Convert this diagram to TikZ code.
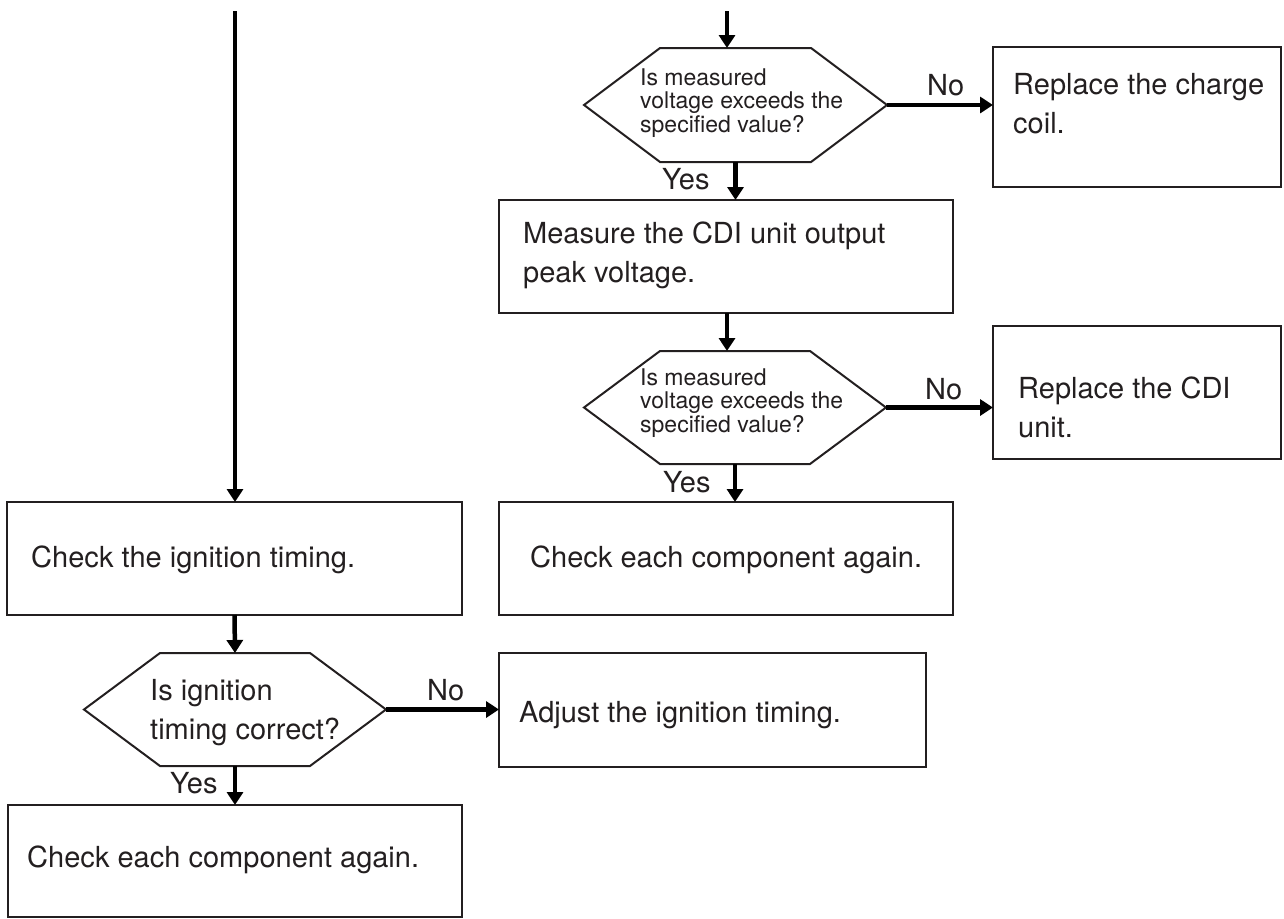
\documentclass[tikz,border=0pt]{standalone}
\usepackage{fontspec}
\setmainfont{TeX Gyre Heros}
\usetikzlibrary{arrows.meta,calc}
\definecolor{ink}{HTML}{231F20}
\begin{document}
\begin{tikzpicture}[x=1pt,y=-1pt,
  stepbox/.style={draw=ink,line width=2pt,inner sep=0pt,outer sep=0pt},
  hexnode/.style={inner sep=0pt,outer sep=0pt},
  hexline/.style={draw=ink,line width=2pt,line join=miter},
  flow/.style={draw=black,line width=4.5pt,-{Triangle[length=13pt,width=16pt]}},
  bigtxt/.style={text=ink,inner sep=0pt,align=left,font=\fontsize{29}{38.5}\selectfont},
  smalltxt/.style={text=ink,inner sep=0pt,align=left,font=\fontsize{23}{23.5}\selectfont},
  lbl/.style={text=ink,inner sep=0pt,font=\fontsize{29}{34}\selectfont,anchor=base west}]
\useasboundingbox (0,0) rectangle (1284,918);

% hexagonal decision outline around a named node
\newcommand\drawhex[2]{%
  \draw[hexline] ($(#1.north west)+(#2,0)$) -- ($(#1.north east)+(-#2,0)$) -- (#1.east)
    -- ($(#1.south east)+(-#2,0)$) -- ($(#1.south west)+(#2,0)$) -- (#1.west) -- cycle;}

% multi-line texts are placed by the baseline of their last line

% ---------- right column ----------
\coordinate (inR) at (727,11);
\node[hexnode,minimum width=303pt,minimum height=114pt] (h1) at (735.5,105) {};
\drawhex{h1}{76}
\node[smalltxt,anchor=base west] (h1t) at (640,132) {Is measured\\voltage exceeds the\\specified value?};

\node[stepbox,minimum width=288pt,minimum height=140pt] (r1) at (1137,117) {};
\node[bigtxt,anchor=base west] (r1t) at (1013,133) {Replace the charge\\coil.};

\node[stepbox,minimum width=454pt,minimum height=113pt] (m1) at (726,256.5) {};
\node[bigtxt,anchor=base west] (m1t) at (523,282) {Measure the CDI unit output\\peak voltage.};

\node[hexnode,minimum width=302pt,minimum height=113pt] (h2) at (735,407.5) {};
\drawhex{h2}{76}
\node[smalltxt,anchor=base west] (h2t) at (640,432) {Is measured\\voltage exceeds the\\specified value?};

\node[stepbox,minimum width=288pt,minimum height=133pt] (r2) at (1137,392.5) {};
\node[bigtxt,anchor=base west] (r2t) at (1018,437) {Replace the CDI\\unit.};

\node[stepbox,minimum width=454pt,minimum height=113pt] (c2) at (726,558.5) {};
\node[bigtxt,anchor=base west] (c2t) at (530,567) {Check each component again.};

% ---------- left column ----------
\coordinate (inL) at (235,11);
\node[stepbox,minimum width=455pt,minimum height=113pt] (t1) at (234.5,558.5) {};
\node[bigtxt,anchor=base west] (t1t) at (31,567) {Check the ignition timing.};

\node[hexnode,minimum width=302pt,minimum height=113pt] (h3) at (235,709.5) {};
\drawhex{h3}{76}
\node[bigtxt,anchor=base west,font=\fontsize{29}{39}\selectfont] (h3t) at (150,739) {Is ignition\\timing correct?};

\node[stepbox,minimum width=427pt,minimum height=114pt] (a1) at (712.5,710) {};
\node[bigtxt,anchor=base west] (a1t) at (519,722) {Adjust the ignition timing.};

\node[stepbox,minimum width=454pt,minimum height=112pt] (c1) at (235,861) {};
\node[bigtxt,anchor=base west] (c1t) at (27,867) {Check each component again.};

% ---------- connectors ----------
\draw[flow] (inR) -- (inR |- h1.north);
\draw[flow] (h1.east) -- (h1.east -| r1.west);
\draw[flow] (h1.south) -- (h1.south |- m1.north);
\draw[flow] (m1.south -| inR) -- (h2.north -| inR);
\draw[flow] (h2.east) -- (h2.east -| r2.west);
\draw[flow] (h2.south) -- (h2.south |- c2.north);

\draw[flow] (inL) -- (inL |- t1.north);
\draw[flow] (t1.south) -- (h3.north);
\draw[flow] (h3.east) -- (h3.east -| a1.west);
\draw[flow] (h3.south) -- (c1.north);

% ---------- branch labels ----------
\node[lbl] (n1) at (927,95) {No};
\node[lbl] (y1) at (662,189) {Yes};
\node[lbl] (n2) at (925,399) {No};
\node[lbl] (y2) at (663,492) {Yes};
\node[lbl] (n3) at (427,700) {No};
\node[lbl] (y3) at (170,793) {Yes};
\end{tikzpicture}
\end{document}
